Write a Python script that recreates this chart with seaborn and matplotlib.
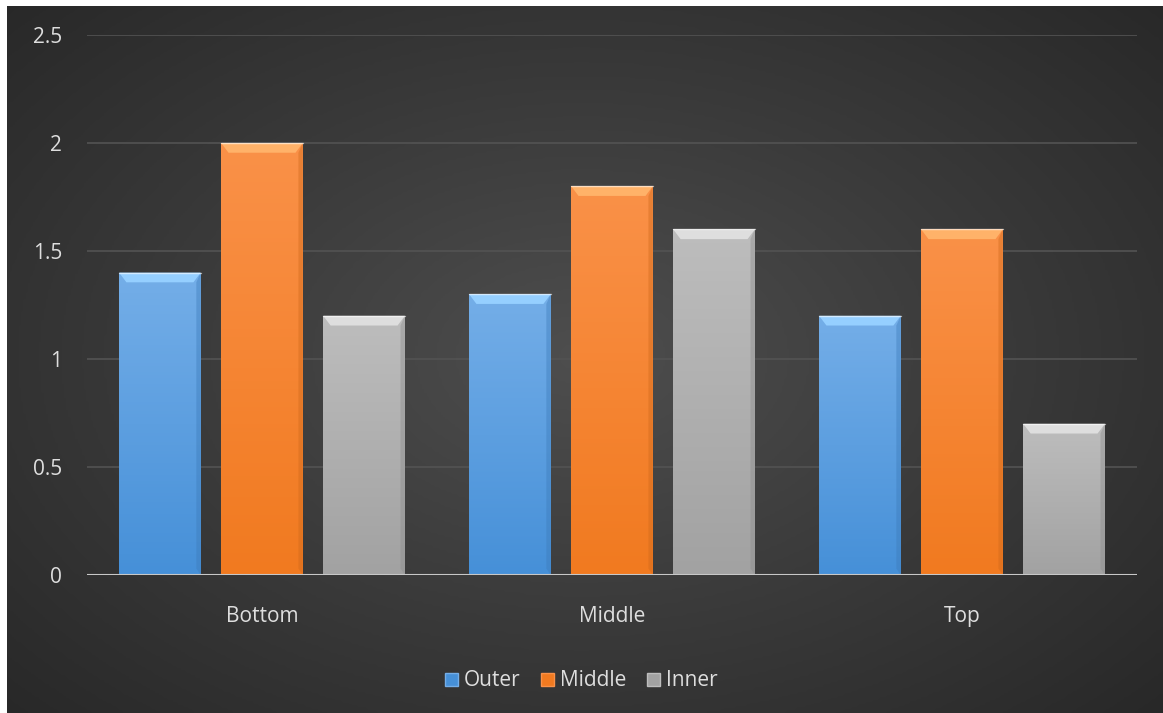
import numpy as np
import pandas as pd
import seaborn as sns
import matplotlib.pyplot as plt
from matplotlib.patches import Polygon, Rectangle
from matplotlib.colors import LinearSegmentedColormap, to_rgb

categories = ['Bottom', 'Middle', 'Top']
series = ['Outer', 'Middle', 'Inner']
outer = [1.4, 1.3, 1.2]
middle = [2.0, 1.8, 1.6]
inner = [1.2, 1.6, 0.7]
yticks = [0, 0.5, 1, 1.5, 2, 2.5]

# top / bottom shade for each series
shades = {
    'Outer': ('#74aee8', '#4690d8'),
    'Middle': ('#fa9148', '#f17a20'),
    'Inner': ('#bdbdbd', '#a2a2a2'),
}

df = pd.DataFrame({
    'cat': categories * 3,
    'series': ['Outer'] * 3 + ['Middle'] * 3 + ['Inner'] * 3,
    'value': outer + middle + inner,
})

sns.set_theme(style='dark')
plt.rcParams['font.family'] = ['Open Sans', 'DejaVu Sans']

fig = plt.figure(figsize=(11.63, 7.13), dpi=100)
fig.patch.set_facecolor('#272727')

# radial background
bg = fig.add_axes([0, 0, 1, 1])
yy, xx = np.mgrid[-1:1:300j, -1:1:500j]
r = np.sqrt((xx * 0.95) ** 2 + (yy * 0.9) ** 2)
bg_cmap = LinearSegmentedColormap.from_list('bg', ['#4e4e4e', '#3a3a3a', '#272727'])
bg.imshow(r, cmap=bg_cmap, aspect='auto', vmin=0, vmax=1.35, extent=[0, 1, 0, 1],
          interpolation='bilinear')
bg.set_xlim(0, 1)
bg.set_ylim(0, 1)
bg.set_axis_off()
# white strips on left and top edge
fig.patches.append(Rectangle((0, 0), 7 / 1163, 1, transform=fig.transFigure,
                             facecolor='white', edgecolor='none', zorder=10))
fig.patches.append(Rectangle((0, 1 - 6 / 713), 1, 6 / 713, transform=fig.transFigure,
                             facecolor='white', edgecolor='none', zorder=10))

ax = fig.add_axes([87 / 1163, 1 - 575 / 713, 1050 / 1163, 540 / 713])
ax.set_facecolor('none')

palette = {k: v[1] for k, v in shades.items()}
sns.barplot(data=df, x='cat', y='value', hue='series', hue_order=series,
            order=categories, palette=palette, width=0.875, gap=0.2,
            saturation=1, ax=ax, legend=False, zorder=3)

# gradient + bevel on each bar
for i, patch in enumerate(ax.patches):
    s = series[i // 3]
    top_c, bot_c = shades[s]
    x0, y0 = patch.get_x(), patch.get_y()
    w, h = patch.get_width(), patch.get_height()
    cm = LinearSegmentedColormap.from_list(s, [bot_c, top_c])
    grad = np.linspace(0, 1, 100).reshape(-1, 1)
    im = ax.imshow(grad, cmap=cm, aspect='auto', origin='lower',
                   extent=[x0, x0 + w, y0, y0 + h], zorder=3)
    im.set_clip_path(patch)
    patch.set_alpha(0)
    bw = w * 0.09
    bh = 0.045
    light = tuple(min(1, c + 0.13) for c in to_rgb(top_c))
    ax.add_patch(Polygon([[x0, y0 + h], [x0 + w, y0 + h], [x0 + w - bw, y0 + h - bh],
                          [x0 + bw, y0 + h - bh]], closed=True, facecolor=light,
                         edgecolor='none', zorder=4))
    ax.plot([x0, x0 + w], [y0 + h, y0 + h], color='white', alpha=0.6, lw=1, zorder=5)
    dark = tuple(c * 0.85 for c in to_rgb(bot_c))
    ax.add_patch(Polygon([[x0 + w, y0 + h], [x0 + w, y0], [x0 + w - bw * 0.6, y0 + 0.03],
                          [x0 + w - bw * 0.6, y0 + h - bh]], closed=True, facecolor=dark,
                         edgecolor='none', alpha=0.4, zorder=4))

ax.set_xlim(-0.5, 2.5)
ax.set_ylim(0, 2.5)
ax.set_yticks(yticks)
ax.set_yticklabels(['0', '0.5', '1', '1.5', '2', '2.5'])
ax.yaxis.grid(True, color='#535353', linewidth=1.2, zorder=0)
ax.xaxis.grid(False)
for sp in ax.spines.values():
    sp.set_visible(False)
ax.axhline(0, color='#c8c8c8', linewidth=1.5, zorder=6)
ax.tick_params(axis='both', colors='#dedede', labelsize=15, length=0)
ax.tick_params(axis='y', pad=18)
ax.tick_params(axis='x', pad=22)
ax.set_xlabel('')
ax.set_ylabel('')

handles = [plt.Rectangle((0, 0), 1, 1, facecolor=shades[s][1], edgecolor=shades[s][0])
           for s in series]
leg = fig.legend(handles, series, loc='center', bbox_to_anchor=(0.5, 1 - 681 / 713),
                 ncol=3, frameon=False, fontsize=15, handlelength=0.6, handleheight=0.6,
                 handletextpad=0.3, columnspacing=1.0)
for t in leg.get_texts():
    t.set_color('#dedede')

fig.savefig('out.png', dpi=100)
